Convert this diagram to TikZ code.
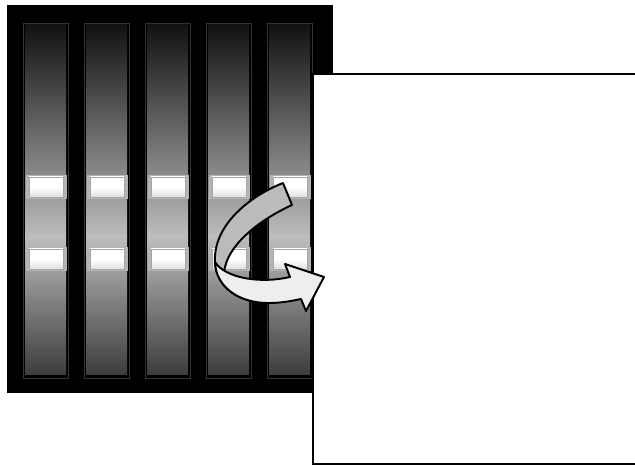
\documentclass[tikz,border=0pt]{standalone}
\usepackage{tikz}
\usetikzlibrary{positioning, calc}
\usepackage{xcolor}
\definecolor{rackgray}{HTML}{333333}
\definecolor{slotdark}{HTML}{121212}
\definecolor{slotlight}{HTML}{BDBDBD}
\definecolor{slotlow}{HTML}{3C3C3C}
\definecolor{handleedge}{HTML}{B4B4B4}
\definecolor{arrowback}{HTML}{BBBBBB}
\definecolor{arrowfront}{HTML}{EEEEEE}

\begin{document}
\begin{tikzpicture}[x=0.02cm, y=-0.02cm,
    slotframe/.style={draw=rackgray, line width=0.45pt, fill=black},
    handlebox/.style={fill=handleedge, draw=none},
    handleface/.style={draw=gray!70, line width=0.3pt, top color=white, bottom color=gray!25, middle color=white},
    backface/.style={draw=black, line width=1.1pt, fill=arrowback, line join=round},
    frontface/.style={draw=black, line width=1.1pt, fill=arrowfront, line join=round}]
    \useasboundingbox (0,0) rectangle (635,465);
    \fill[black] (7,5) rectangle (333,393);
    \foreach \i in {0,...,4} {
        \coordinate (s\i) at (23+61*\i, 23);
        \draw[slotframe] (s\i) rectangle ++(45,355);
        \shade[top color=slotdark, bottom color=slotlight] ($(s\i)+(2,2)$) rectangle ($(s\i)+(43,214)$);
        \shade[top color=slotlight, bottom color=slotlow] ($(s\i)+(2,214)$) rectangle ($(s\i)+(43,352)$);
        \foreach \y in {152,224} {
            \fill[handlebox] ($(s\i)+(3,\y)$) rectangle ++(41,24);
            \shade[handleface] ($(s\i)+(6,\y+2)$) rectangle ++(34,20);
        }
    }
    \draw[line width=1.1pt, fill=white] (313,74) rectangle (650,464);

    \coordinate (tailtop) at (283,183);
    \coordinate (tailbot) at (292,205);
    \coordinate (twist) at (215,262);
    \coordinate (bend) at (268,303);
    \coordinate (notchlow) at (301,299);
    \coordinate (barblow) at (306,311);
    \coordinate (tip) at (324,277);
    \coordinate (barbup) at (285,264);
    \coordinate (notchup) at (290,277);
    \draw[backface] (tailtop) .. controls (250,196) and (213,225) .. (twist)
        .. controls (216,288) and (240,303) .. (bend) -- (250,290) -- (224,278)
        .. controls (222,250) and (255,222) .. (tailbot) -- cycle;
    \draw[frontface] (twist) .. controls (225,278) and (260,284) .. (notchup) -- (barbup) -- (tip)
        -- (barblow) -- (notchlow) .. controls (295,300) and (285,303) .. (bend)
        .. controls (240,303) and (216,288) .. (twist) -- cycle;
\end{tikzpicture}
\end{document}
